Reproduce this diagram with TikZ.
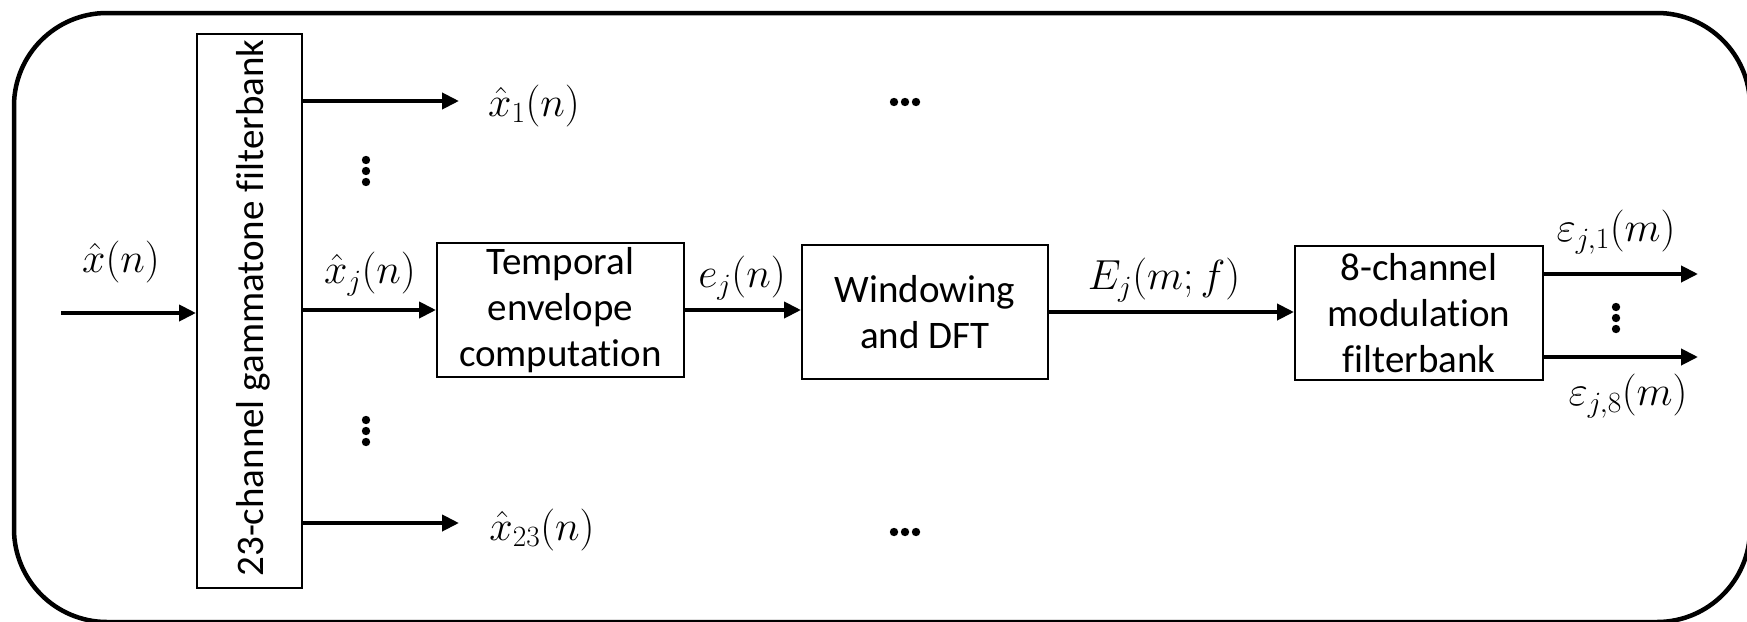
\documentclass[tikz,border=0pt]{standalone}
\usepackage{fix-cm}
\usepackage{fontspec}
\setmainfont{Carlito}[Ligatures=NoCommon]
\usetikzlibrary{arrows.meta}
\begin{document}
\begin{tikzpicture}[x=1pt,y=-1pt,
  every node/.style={font=\fontsize{39}{46}\selectfont},
  blk/.style={draw, line width=2pt, inner sep=0pt, align=center},
  arr/.style={line width=4pt, -{Triangle[length=17pt,width=16pt]}},
  lbl/.style={inner sep=0pt, font=\fontsize{42}{48}\selectfont},
  dotc/.style={fill=black}]
\useasboundingbox (0,0) rectangle (1747,621);
\draw[line width=4.5pt, rounded corners=93pt] (14,13) rectangle (1750,622);

% blocks
\node[blk, minimum width=105pt, minimum height=554pt] (gam) at (249.5,311) {};
\node[rotate=90, anchor=base, inner sep=0pt] (gamtxt) at (263,308) {23-channel gammatone filterbank};
\node[blk, minimum width=247pt, minimum height=134pt] (temp) at (560.5,310) {Temporal\\envelope\\computation};
\node[blk, minimum width=246pt, minimum height=134pt] (win) at (925,312) {Windowing\\and DFT};
\node[blk, minimum width=248pt, minimum height=134pt] (mod) at (1419,313) {8-channel\\modulation\\filterbank};

% labels
\node[lbl] (lxin) at (121,262) {$\hat{x}(n)$};
\node[lbl] (lx1) at (534,106) {$\hat{x}_1(n)$};
\node[lbl] (lxj) at (370,274) {$\hat{x}_j(n)$};
\node[lbl] (lx23) at (542,530) {$\hat{x}_{23}(n)$};
\node[lbl] (lej) at (742,278) {$e_j(n)$};
\node[lbl] (lEj) at (1164,280) {$E_j(m;f)$};
\node[lbl] (le1) at (1616,232) {$\varepsilon_{j,1}(m)$};
\node[lbl] (le8) at (1628,396) {$\varepsilon_{j,8}(m)$};

% connectors
\coordinate (xinstart) at (61,313);
\coordinate (x1end) at (459,101);
\coordinate (x23end) at (459,523);
\coordinate (o1) at (1698,274);
\coordinate (o8) at (1698,357);
\draw[arr] (xinstart) -- (gam.west |- xinstart);
\draw[arr] (gam.east |- x1end) -- (x1end);
\draw[arr] (gam.east |- x23end) -- (x23end);
\draw[arr] (gam.east |- temp.west) -- (temp.west);
\draw[arr] (temp.east) -- (temp.east -| win.west);
\draw[arr] (win.east) -- (win.east -| mod.west);
\draw[arr] (mod.east |- o1) -- (o1);
\draw[arr] (mod.east |- o8) -- (o8);

% dots
\foreach \d in {-11,0,11} {
  \fill[dotc] (905+\d,102) circle (4.2pt);
  \fill[dotc] (905+\d,532) circle (4.2pt);
  \fill[dotc] (366,171+\d) circle (4.2pt);
  \fill[dotc] (366,431+\d) circle (4.2pt);
  \fill[dotc] (1616,318+\d) circle (4.2pt);
}
\end{tikzpicture}
\end{document}
